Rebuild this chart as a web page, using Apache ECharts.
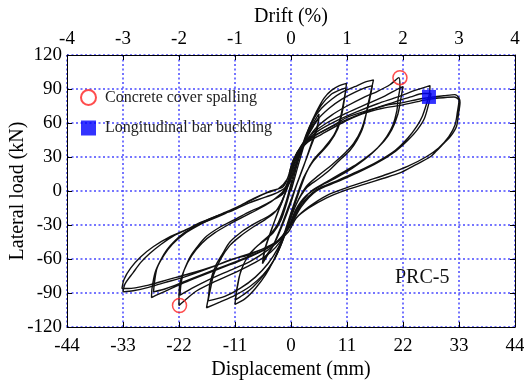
<!DOCTYPE html>
<html>
<head>
<meta charset="utf-8">
<script src="https://cdn.jsdelivr.net/npm/echarts@6/dist/echarts.min.js"></script>
<style>
  html, body { margin: 0; padding: 0; background: #fff; }
  #chart { width: 524px; height: 383px; }
</style>
</head>
<body>
<div id="chart"></div>
<script>
// displacement (mm) / lateral load (kN), one array per drift level
const loop05 = [[0,0],[1,16],[2,32],[3,46],[4,57],[5.5,68],[5.2,58],[4,42],[2.5,22],[1,4],[0,-10],[-1.5,-28],[-3,-44],[-4.5,-56],[-5.6,-64],[-5.2,-52],[-4,-36],[-2.5,-18],[-1,0],[0,12],[1.5,30],[3,46],[4.5,58],[5.5,65],[5.1,54],[3.8,38],[2.3,20],[0.8,2],[-0.5,-14],[-2,-32],[-3.5,-48],[-5,-58],[-5.5,-62],[-5,-50],[-3.8,-34],[-2.2,-14],[-0.8,2],[0.5,16]];

const loop10 = [[0.5,16],[2,36],[3.5,55],[5,70],[6.5,82],[8,89],[9.5,93],[10.9,95],[10.6,84],[10,68],[9.2,55],[7.5,42],[5.5,32],[4,24],[2.5,12],[1,-6],[-0.5,-26],[-2,-46],[-3.5,-62],[-5,-74],[-7,-86],[-9,-95],[-11,-100],[-10.7,-88],[-10,-73],[-8.8,-60],[-7,-50],[-5,-43],[-3.5,-37],[-2,-26],[-0.8,-10],[0.3,8],[1.5,28],[3,48],[4.5,64],[6,76],[7.8,85],[9.5,89],[10.8,91],[10.4,80],[9.6,63],[8.5,50],[6.5,38],[4.5,28],[3,16],[1.5,-2],[0,-22],[-1.5,-42],[-3,-58],[-5,-72],[-7.5,-85],[-9.5,-92],[-10.9,-96],[-10.5,-84],[-9.8,-70],[-8.2,-56],[-6,-46],[-4,-38],[-2.5,-28],[-1,-10],[0.2,10]];

const loop15 = [[0.2,10],[1.5,30],[3,50],[4.5,64],[6,73],[8,81],[10,87],[12.5,92],[14.5,96],[16.2,98],[15.8,90],[15.2,78],[14.2,57],[13,45],[11.6,36],[9.5,27],[7.7,19],[5.5,11],[3.1,3],[1,-12],[-0.5,-30],[-2,-48],[-3.5,-62],[-5.5,-74],[-8,-84],[-11,-92],[-14,-98],[-16.6,-103],[-16.2,-93],[-15.9,-81],[-14.8,-66],[-13.4,-55],[-12,-45],[-10,-37],[-8,-31],[-6,-26],[-4,-21],[-2.2,-14],[-1,0],[0,16],[1.5,34],[3,48],[5,62],[7.5,73],[10,81],[12.5,87],[14.5,91],[16,93],[15.6,84],[15,72],[13.8,54],[12.3,42],[10.5,33],[8,23],[5.5,14],[3,4],[1,-12],[-0.7,-32],[-2.5,-50],[-4.5,-64],[-7,-76],[-10,-86],[-13,-93],[-16.3,-97],[-15.8,-86],[-15.2,-74],[-13.8,-60],[-12,-48],[-10,-40],[-7.5,-32],[-5,-25],[-3,-18],[-1.3,-4],[0,14]];

const loop20 = [[0,14],[1.5,32],[3,44],[5,56],[8,67],[11,75],[14,82],[17,88],[19.5,94],[21.2,100],[21.4,92],[21,80],[20.8,71],[20,58],[18.8,48],[17,38],[14.5,28],[12,20],[9,12],[6,5],[3,-4],[1,-16],[-0.5,-32],[-2,-44],[-4,-54],[-7,-63],[-11,-72],[-15,-80],[-18.5,-88],[-20.5,-95],[-22,-101],[-22,-92],[-21.8,-81],[-21,-70],[-19.8,-58],[-18.2,-48],[-16.6,-40],[-14,-32],[-11.4,-26],[-8.5,-19],[-6,-14],[-3.5,-8],[-1.5,-2],[-0.3,10],[0.7,28],[2,40],[4,50],[7,60],[11,69],[15,77],[18.5,84],[21,90],[22,92],[21.6,82],[21,68],[19.8,54],[18.3,44],[16,34],[13,24],[10,16],[7,8],[4,0],[1.5,-14],[-0.3,-30],[-2,-42],[-4.5,-52],[-8,-62],[-12,-70],[-16,-78],[-19.5,-86],[-21.8,-92],[-21.6,-82],[-21,-70],[-19.5,-57],[-17.5,-46],[-15,-37],[-12,-29],[-9,-22],[-6,-15],[-3.5,-8],[-1.5,0],[-0.2,14]];

const loop25 = [[-0.2,14],[0.8,30],[2.5,42],[5,52],[9,62],[13,70],[17,77],[21,83],[24.5,89],[27.3,93],[27.2,86],[26.7,78],[25.8,66],[24.7,57],[23,47],[20.5,36],[17,26],[13,17],[9,9],[5,1],[2,-12],[0,-28],[-1.8,-40],[-4,-49],[-8,-58],[-12,-65],[-16,-72],[-20,-79],[-23.5,-86],[-26,-91],[-27.4,-94],[-27.3,-86],[-26.7,-72],[-25.6,-61],[-24.4,-52],[-22.8,-44],[-21,-37],[-18.8,-31],[-16.6,-26],[-13.5,-20],[-10.5,-14],[-7.5,-7],[-5,-2],[-2.5,2],[-0.8,10],[0.2,24],[1.5,36],[4,47],[8,57],[12,65],[16,72],[20,78],[23.5,83],[26,86],[27.5,86],[27,76],[26.2,64],[24.8,54],[23,45],[20.5,35],[17,25],[13,16],[9,8],[5,0],[2,-14],[0,-30],[-2,-42],[-5,-51],[-9,-59],[-13,-66],[-17,-73],[-21,-80],[-24.5,-86],[-27,-89],[-26.8,-80],[-26.3,-68],[-25,-57],[-23.3,-47],[-21,-38],[-18,-30],[-15,-23],[-12,-17],[-9,-11],[-6,-4],[-4,0],[-1.5,4],[-0.3,16]];

const loop30 = [[-0.3,16],[0.5,28],[2.2,40],[4.4,48],[8,57],[11,65],[15,71],[19,76],[22,78],[25,81],[28,83],[30,84],[32.2,85],[33,82],[33.2,78],[32.9,68],[32.5,57],[31.3,48],[30,42],[28.5,35],[27.3,30],[24,22],[21.4,16],[18,11],[14.5,6],[10.9,1],[7,-6],[3.5,-15],[1,-24],[-0.5,-36],[-2.5,-44],[-5,-50],[-8,-56],[-11.4,-60],[-16,-68],[-21,-76],[-25,-81],[-28,-85],[-31,-88],[-33,-89],[-32.6,-82],[-31,-72],[-29.5,-63],[-27.7,-55],[-25.5,-47],[-23.2,-40],[-20.5,-34],[-17.9,-28],[-14.5,-22],[-11.4,-17],[-8,-10],[-4.8,-5],[-2.5,-1],[-0.9,4],[0,18],[1,30],[3,42],[6,50],[10,60],[14,68],[18,73],[22,76],[26,80],[29,82],[32,83],[33,80],[32.7,70],[32.2,58],[31,48],[29,38],[26.5,30],[23,22],[19,15],[15,9],[11,3],[7,-4],[3.5,-14],[1,-24],[-0.5,-36],[-3,-46],[-6,-52],[-10,-58],[-15,-66],[-20,-73],[-24,-78],[-28,-83],[-32,-86],[-33.2,-86],[-32.8,-78],[-31.5,-68],[-29.5,-58],[-27,-49],[-24,-41],[-21,-35],[-18,-29],[-15,-24],[-12,-18],[-9,-12],[-6,-7],[-3,-2],[-1,3],[0,10]];

const spalling = [[21.4,100],[-21.9,-101]];
const buckling = [[27.1,83]];

const dispTicks = [-44, -33, -22, -11, 0, 11, 22, 33, 44];
const loadTicks = [-120, -90, -60, -30, 0, 30, 60, 90, 120];
const driftTicks = [-4, -3, -2, -1, 0, 1, 2, 3, 4];

const FONT = '"Liberation Serif", "DejaVu Serif", serif';
const loops = [loop05, loop10, loop15, loop20, loop25, loop30];

const chart = echarts.init(document.getElementById('chart'));

const tick = { show: true, inside: true, length: 5, lineStyle: { color: '#000', width: 1 } };
// blue dotted grid
const grid = { show: true, lineStyle: { color: '#4848ff', type: [2, 2.5], width: 1.5 } };

const option = {
  animation: false,
  backgroundColor: '#fff',
  textStyle: { fontFamily: FONT },
  grid: { left: 67, right: 9, top: 55, bottom: 56, show: false, containLabel: false, outerBoundsMode: 'none' },
  legend: {
    orient: 'vertical',
    left: 80,
    top: 89,
    padding: 0,
    itemWidth: 15,
    itemHeight: 15,
    itemGap: 14,
    data: ['Concrete cover spalling', 'Longitudinal bar buckling'],
    textStyle: { fontFamily: FONT, fontSize: 16, color: '#222', padding: [0, 0, 0, 4] }
  },
  xAxis: [
    {
      type: 'value', position: 'bottom', min: -44, max: 44, interval: 11,
      name: 'Displacement (mm)', nameLocation: 'middle', nameGap: 33, nameMoveOverlap: false,
      nameTextStyle: { fontFamily: FONT, fontSize: 20, color: '#000' },
      axisLine: { show: true, onZero: false, lineStyle: { color: '#000', width: 1 } },
      axisTick: tick,
      axisLabel: { fontFamily: FONT, fontSize: 19, color: '#000', margin: 10,
        formatter: v => dispTicks.includes(v) ? String(v) : '' },
      splitLine: grid
    },
    {
      type: 'value', position: 'top', min: -4, max: 4, interval: 1,
      name: 'Drift (%)', nameLocation: 'middle', nameGap: 28, nameMoveOverlap: false,
      nameTextStyle: { fontFamily: FONT, fontSize: 20, color: '#000' },
      axisLine: { show: true, onZero: false, lineStyle: { color: '#000', width: 1 } },
      axisTick: tick,
      axisLabel: { fontFamily: FONT, fontSize: 19, color: '#000', margin: 6,
        formatter: v => driftTicks.includes(v) ? String(v) : '' },
      splitLine: { show: false }
    }
  ],
  yAxis: [
    {
      type: 'value', position: 'left', min: -120, max: 120, interval: 30,
      name: 'Lateral load (kN)', nameLocation: 'middle', nameGap: 39, nameMoveOverlap: false,
      nameTextStyle: { fontFamily: FONT, fontSize: 20, color: '#000' },
      axisLine: { show: true, onZero: false, lineStyle: { color: '#000', width: 1 } },
      axisTick: tick,
      axisLabel: { fontFamily: FONT, fontSize: 19, color: '#000', margin: 5,
        formatter: v => loadTicks.includes(v) ? String(v) : '' },
      splitLine: grid
    },
    {
      type: 'value', position: 'right', min: -120, max: 120, interval: 30,
      axisLine: { show: true, onZero: false, lineStyle: { color: '#000', width: 1 } },
      axisTick: tick,
      axisLabel: { show: false },
      splitLine: { show: false }
    }
  ],
  graphic: [
    { type: 'text', left: 395, top: 268,
      style: { text: 'PRC-5', fontFamily: FONT, fontSize: 20, fill: '#111' } }
  ],
  series: loops.map(d => ({
    type: 'line', data: d, xAxisIndex: 0, yAxisIndex: 0,
    symbol: 'none', smooth: 0.3, silent: true, z: 2,
    lineStyle: { color: '#111', width: 1.4 }
  })).concat([
    {
      name: 'Concrete cover spalling', type: 'scatter', data: spalling,
      symbol: 'circle', symbolSize: 14, z: 5,
      itemStyle: { color: 'rgba(255,255,255,0)', borderColor: '#ff2020', borderWidth: 1.5 }
    },
    {
      name: 'Longitudinal bar buckling', type: 'scatter', data: buckling,
      symbol: 'rect', symbolSize: 14, z: 5,
      itemStyle: { color: '#0000ff' }
    }
  ])
};

chart.setOption(option);
</script>
</body>
</html>
